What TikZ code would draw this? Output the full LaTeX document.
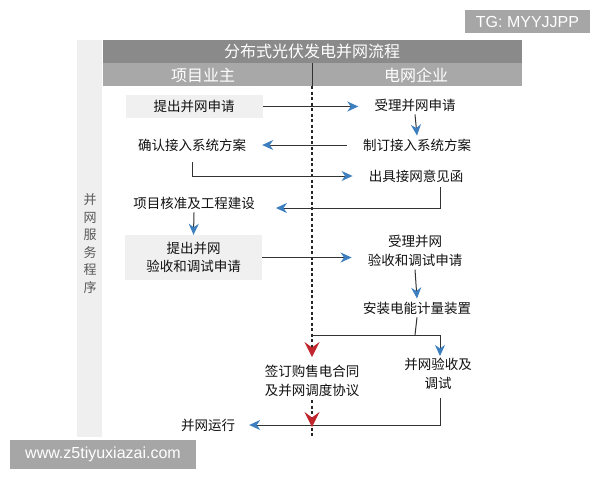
\documentclass[tikz,border=0pt]{standalone}
\usepackage{fontspec}
\setmainfont{Noto Sans CJK SC}
\newfontfamily\wmfont{Liberation Sans}
\usetikzlibrary{arrows.meta}
\definecolor{titlegray}{HTML}{8A8A8A}
\definecolor{headgray}{HTML}{A8A8A8}
\definecolor{stripgray}{HTML}{EFEFEF}
\definecolor{boxgray}{HTML}{F0F0F0}
\definecolor{wmgray}{HTML}{A6A6A6}
\definecolor{textdark}{HTML}{111111}
\definecolor{linedark}{HTML}{333333}
\definecolor{arrowblue}{HTML}{3D7EBF}
\definecolor{arrowred}{HTML}{C0262C}
\begin{document}
\begin{tikzpicture}[x=1pt,y=-1pt,
  txt/.style={inner xsep=16pt, inner ysep=3pt, text=textdark, font=\fontsize{13.5}{18.5}\selectfont, align=center},
  graybox/.style={txt, fill=boxgray, inner sep=0pt, minimum width=137pt},
  head/.style={text=white, font=\fontsize{16}{18}\selectfont},
  vert/.style={text=black!65, font=\fontsize{13}{14}\selectfont, inner sep=0pt},
  line/.style={draw=linedark, line width=1pt},
  barr/.style={line, -{Stealth[length=11pt, width=10pt, inset=3.5pt, color=arrowblue]}},
  dline/.style={draw=black!85, line width=1.6pt, dash pattern=on 3pt off 2.5pt},
  redtip/.style={fill=arrowred, draw=none},
  wm/.style={fill=wmgray, text=white, font=\wmfont\fontsize{16}{18}\selectfont, inner sep=0pt}
]
\useasboundingbox (0,0) rectangle (600,480);
\fill[white] (0,0) rectangle (600,480);

% left strip and header bars
\fill[stripgray] (77,40) rectangle (102,437);
\fill[titlegray] (103,40) rectangle (522,63);
\fill[headgray] (103,63) rectangle (522,86);
\node[head] (title) at (312,51.5) {分布式光伏发电并网流程};
\node[head] (hl) at (203,75) {项目业主};
\node[head] (hr) at (416,75) {电网企业};
\draw[linedark, line width=0.8pt] (312,63) -- (312,86);

% vertical label
\node[vert] (v1) at (90,200) {并};
\node[vert] (v2) at (90,217.5) {网};
\node[vert] (v3) at (90,235) {服};
\node[vert] (v4) at (90,252.5) {务};
\node[vert] (v5) at (90,270) {程};
\node[vert] (v6) at (90,287.5) {序};

% dashed center line
\draw[dline] (312,86) -- (312,352);
\draw[dline] (312,400) -- (312,438);

% nodes
\node[graybox, minimum height=23pt] (n1) at (194,106.5) {提出并网申请};
\node[txt] (n2) at (415,105) {受理并网申请};
\node[txt] (n3) at (417,145) {制订接入系统方案};
\node[txt] (n4) at (192,145) {确认接入系统方案};
\node[txt] (n5) at (416,176) {出具接网意见函};
\node[txt] (n6) at (194,203) {项目核准及工程建设};
\node[graybox, minimum height=45pt] (n7) at (193.5,257.5) {提出并网\\验收和调试申请};
\node[txt] (n8) at (415,251) {受理并网\\验收和调试申请};
\node[txt] (n9) at (417,308) {安装电能计量装置};
\node[txt, inner xsep=2pt] (n10) at (438,374) {并网验收及\\调试};
\node[txt, inner xsep=2pt] (n11) at (312,381) {签订购售电合同\\及并网调度协议};
\node[txt] (n12) at (208,425) {并网运行};

\coordinate (split) at (415,335);
\coordinate (dl) at (312,335);
\coordinate (dr) at (440,335);
\coordinate (drt) at (440,356);
\coordinate (vx) at (440,398);

% connectors
\draw[barr] (n1.east) -- (n1.east -| n2.west);
\draw[barr] (n2.south) -- (n3.north);
\draw[barr] (n3.west) -- (n3.west -| n4.east);
\draw[barr] ([yshift=-8pt]n4.south) |- (n5.west);
\draw[barr] ([xshift=24pt,yshift=-2pt]n5.south) |- ([yshift=-5pt,xshift=5pt]n6.east);
\draw[barr] (n6.south) -- (n7.north);
\draw[barr] (n7.east) -- (n7.east -| n8.west);
\draw[barr] (n8.south) -- (n9.north);
\draw[line] (n9.south) -- (split);
\draw[line] (dl) -- (dr);
\draw[barr] (dr) -- (drt);
\draw[barr] (vx) |- ([xshift=-2pt]n12.east);

% red arrow tips on the dashed line
\fill[redtip] (312,357) -- (304.5,342) -- (312,347.5) -- (319.5,342) -- cycle;
\fill[redtip] (312,427) -- (304.5,412) -- (312,417.5) -- (319.5,412) -- cycle;

% watermarks
\node[wm, minimum width=125pt, minimum height=23pt] (wm1) at (527.5,21.5) {TG: MYYJJPP};
\node[wm, minimum width=186pt, minimum height=29pt] (wm2) at (103,454.5) {www.z5tiyuxiazai.com};
\end{tikzpicture}
\end{document}
